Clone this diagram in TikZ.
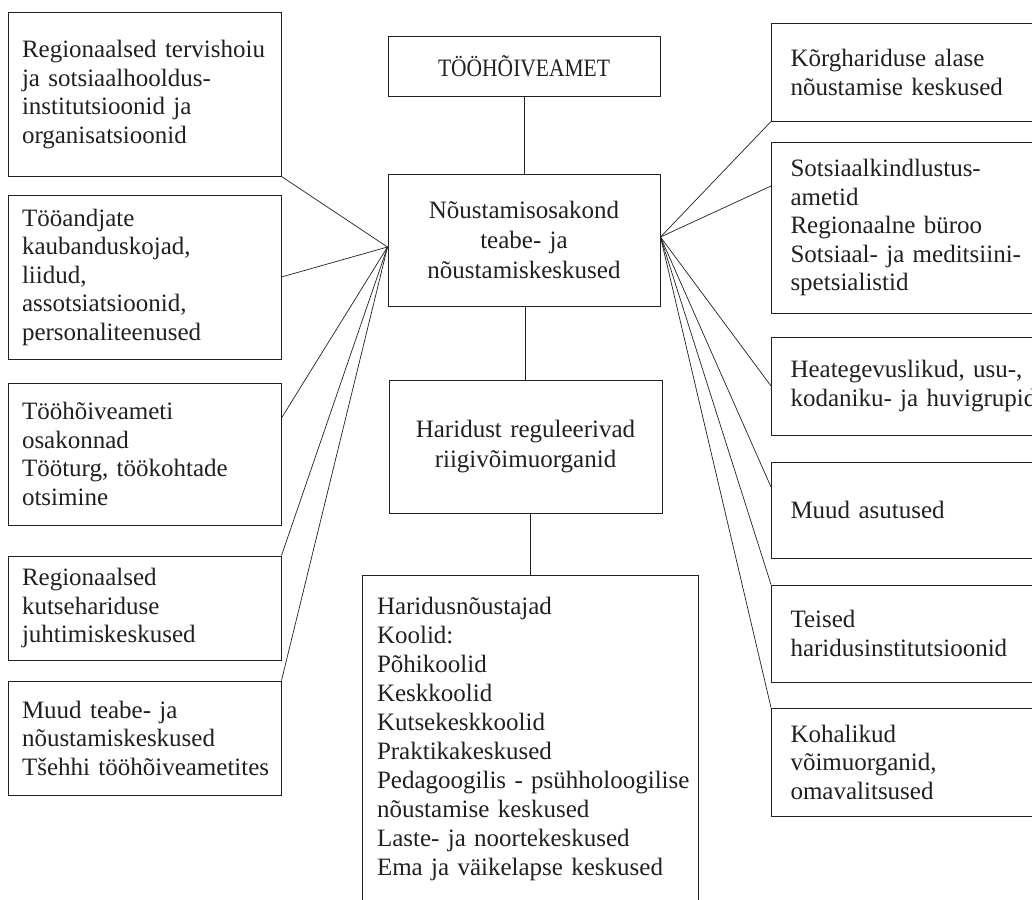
\documentclass[tikz,border=0pt]{standalone}
\usepackage{fontspec}
\usepackage{graphicx}
\setmainfont{Liberation Serif}
\usetikzlibrary{positioning}
\definecolor{ink}{HTML}{231F20}

\begin{document}
\begin{tikzpicture}[x=1pt, y=-1pt,
    every node/.style={font=\fontsize{25}{28.5}\selectfont, text=ink},
    leftbox/.style={draw=ink, line width=1pt, align=left, inner xsep=14pt,
      inner ysep=2pt, text width=245pt, minimum height=#1},
    rightbox/.style={draw=ink, line width=1pt, align=left, anchor=west,
      inner xsep=19pt, inner ysep=2pt, text width=260pt, minimum height=#1},
    midbox/.style={draw=ink, line width=1pt, align=center, inner xsep=10pt,
      inner ysep=2pt, text width=252pt, font=\fontsize{25}{30}\selectfont,
      minimum height=#1},
    link/.style={draw=ink, line width=0.7pt}]
    \useasboundingbox (0,0) rectangle (1032,899);
    \clip (0,0) rectangle (1032,899);

    % keskmine veerg
    \node[midbox=59pt] (amet) at (524,66.5) {\scalebox{0.86}[1]{TÖÖHÕIVEAMET}};
    \node[midbox=132pt] (nou) at (524,240) {Nõustamisosakond\\teabe- ja\\nõustamiskeskused};
    \node[midbox=133pt, text width=253pt] (har) at (525.5,446.5) {Haridust reguleerivad\\riigivõimuorganid};
    \node[draw=ink, line width=1pt, align=left, anchor=north, inner xsep=15pt,
      inner ysep=2pt, text width=306pt, minimum height=326pt,
      font=\fontsize{25}{29}\selectfont] (kool) at (530,575)
      {Haridusnõustajad\\Koolid:\\Põhikoolid\\Keskkoolid\\Kutsekeskkoolid\\Praktikakeskused\\
       \mbox{Pedagoogilis - psühholoogilise}\\nõustamise keskused\\Laste- ja noortekeskused\\Ema ja väikelapse keskused};

    % vasak veerg
    \node[leftbox=163pt] (vas1) at (144.5,94.5) {\mbox{Regionaalsed tervishoiu}\\ja sotsiaalhooldus-\\institutsioonid ja\\organisatsioonid};
    \node[leftbox=164pt] (vas2) at (144.5,277) {Tööandjate\\kaubanduskojad,\\liidud,\\assotsiatsioonid,\\personaliteenused};
    \node[leftbox=142pt] (vas3) at (144.5,454) {Tööhõiveameti\\osakonnad\\\mbox{Tööturg, töökohtade}\\otsimine};
    \node[leftbox=104pt] (vas4) at (144.5,608) {Regionaalsed\\kutsehariduse\\juhtimiskeskused};
    \node[leftbox=114pt] (vas5) at (144.5,738) {Muud teabe- ja\\nõustamiskeskused\\\mbox{Tšehhi tööhõiveametites}};

    % parem veerg
    \node[rightbox=97pt] (par1) at (771,72.5) {Kõrghariduse alase\\nõustamise keskused};
    \node[rightbox=171pt] (par2) at (771,227.5) {Sotsiaalkindlustus-\\ametid\\Regionaalne büroo\\Sotsiaal- ja meditsiini-\\spetsialistid};
    \node[rightbox=98pt] (par3) at (771,386) {Heategevuslikud, usu-,\\kodaniku- ja huvigrupid};
    \node[rightbox=96pt] (par4) at (771,510) {Muud asutused};
    \node[rightbox=97pt] (par5) at (771,633.5) {Teised\\haridusinstitutsioonid};
    \node[rightbox=108pt] (par6) at (771,762) {Kohalikud\\võimuorganid,\\omavalitsused};

    \coordinate[below=7pt of nou.west] (jaotL);
    \coordinate[above=3pt of nou.east] (jaotR);
    \coordinate[above=36pt of vas3.east] (vas3k);
    \coordinate[above=41.5pt of par2.west] (par2k);
    \coordinate[above=23pt of par4.west] (par4k);

    \draw[link] (amet) -- (nou);
    \draw[link] (har.north) -- (har.north |- nou.south);
    \draw[link] (kool.north) -- (kool.north |- har.south);

    \foreach \a in {vas1.south east, vas2.east, vas3k, vas4.north east, vas5.north east}
      \draw[link] (\a) -- (jaotL);
    \foreach \a in {par1.south west, par2k, par3.west, par4k, par5.north west, par6.north west}
      \draw[link] (\a) -- (jaotR);
\end{tikzpicture}
\end{document}
